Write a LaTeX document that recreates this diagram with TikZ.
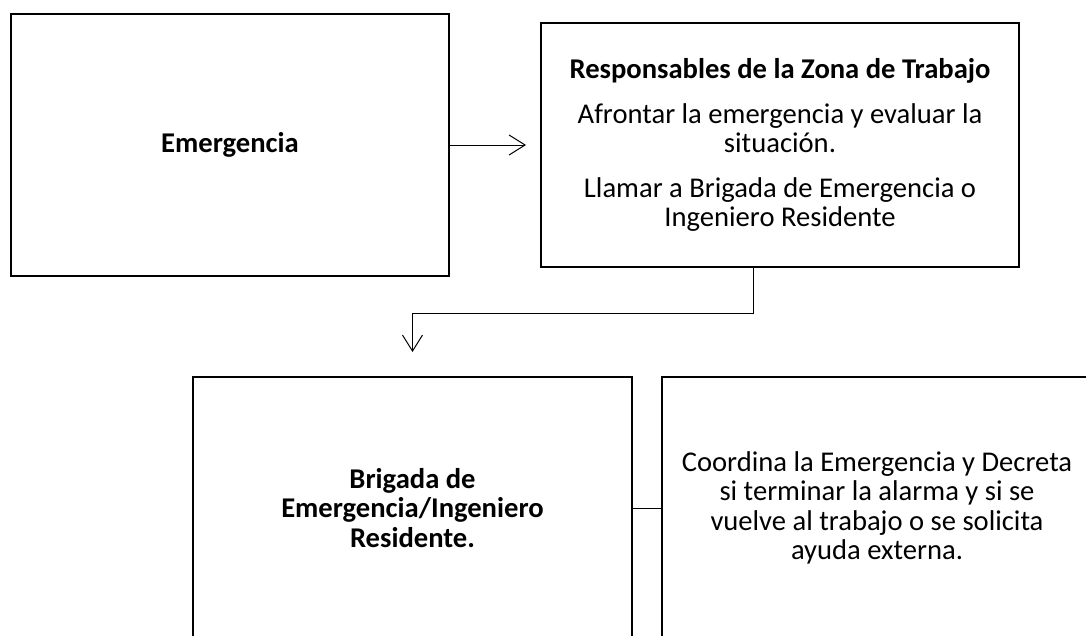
\documentclass[tikz,border=0pt]{standalone}
\usepackage{fontspec}
\setmainfont{Carlito}
\usetikzlibrary{positioning,arrows.meta}

\begin{document}
\begin{tikzpicture}[x=1pt,y=-1pt,
caja/.style={draw,line width=2.5pt,outer sep=0pt,align=center,font=\fontsize{28.6}{29.5}\selectfont,minimum width=438pt,minimum height=262pt},
flecha/.style={line width=1pt,-{Straight Barb[length=16pt,width=20pt]}}]
\useasboundingbox (0,0) rectangle (1086,635);
\clip (0,0) rectangle (1086,635);

\node[caja] (a) at (230,145) {\textbf{Emergencia}};
\node[caja,right=92pt of a,minimum width=478pt,minimum height=244pt] (b) {\textbf{Responsables de la Zona de Trabajo}\\[15pt]
Afrontar la emergencia y evaluar la\\situación.\\[15pt]
Llamar a Brigada de Emergencia o\\Ingeniero Residente};
\node[caja,minimum width=439pt] (c) at (412.5,508) {\textbf{Brigada de}\\\textbf{Emergencia/Ingeniero}\\\textbf{Residente.}};
\node[caja,right=30pt of c,minimum width=430pt] (d) {Coordina la Emergencia y Decreta\\si terminar la alarma y si se\\vuelve al trabajo o se solicita\\ayuda externa.};
\coordinate [right=77pt of a] (e);
\coordinate [above=25pt of c] (f);
\coordinate (g) at ([xshift=-27pt]b.south);

\draw[flecha] (a) -- (e);
\draw[flecha] (g) -- ++(0,46) -| (f);
\draw[line width=1pt] (c) -- (d);
\end{tikzpicture}
\end{document}
